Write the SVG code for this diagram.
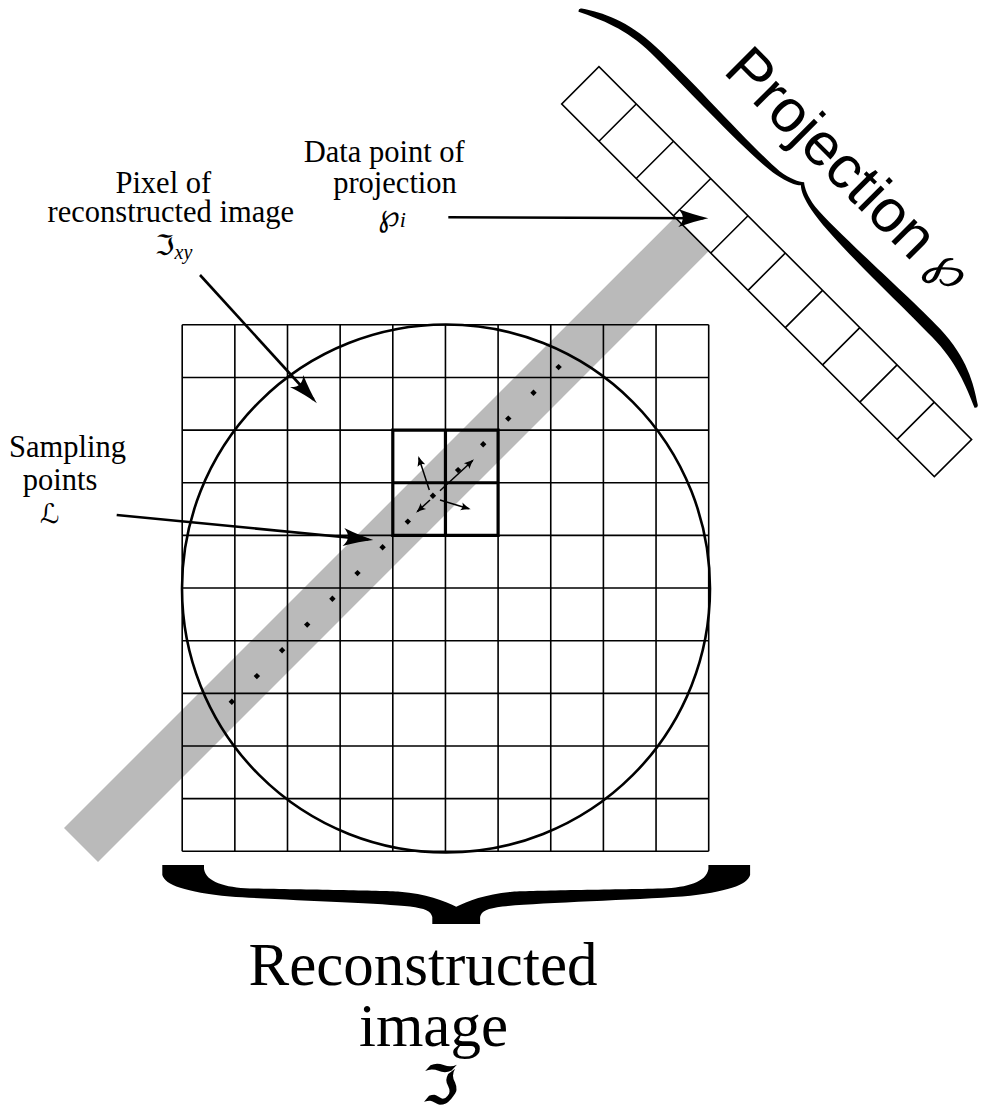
<svg xmlns="http://www.w3.org/2000/svg" width="987" height="1117" viewBox="0 0 987 1117">
<style>
.serif{font-family:"Liberation Serif","Times New Roman",serif;fill:#000}
.sym{font-family:"DejaVu Serif","DejaVu Sans",serif;fill:#000}
.sans{font-family:"Liberation Sans",Arial,sans-serif;fill:#000}
.grid{fill:none;stroke:#000;stroke-width:1.6}
.bold{fill:none;stroke:#000;stroke-width:3.2}
.cell{fill:none;stroke:#000;stroke-width:1.6}
.lab{fill:none;stroke:#000;stroke-width:2.6}
.sm{fill:none;stroke:#000;stroke-width:1.5}
</style>
<defs>
<marker id="ah" viewBox="-32 -10 34 20" refX="-5" refY="0" markerWidth="34" markerHeight="20" markerUnits="userSpaceOnUse" orient="auto">
<path d="M0,0 Q-14,-3 -30,-9 Q-21,0 -30,9 Q-14,3 0,0Z" fill="#000"/>
</marker>
<marker id="sh" viewBox="-12 -5 13 10" refX="-2" refY="0" markerWidth="13" markerHeight="10" markerUnits="userSpaceOnUse" orient="auto">
<path d="M0,0 Q-5,-1.2 -10,-4 Q-7,0 -10,4 Q-5,1.2 0,0Z" fill="#000"/>
</marker>
<path id="dot" d="M0,-3.2 L3.2,0 0,3.2 -3.2,0Z" fill="#000"/>
</defs>

<g id="band">
<polygon points="64,828 98,862 708.8,251.1 674.9,217.2" fill="#bababa"/>
</g>

<g id="grid">
<path class="grid" d="M182.2,324.8V851.3M234.85,324.8V851.3M287.5,324.8V851.3M340.15,324.8V851.3M392.8,324.8V851.3M445.45,324.8V851.3M498.1,324.8V851.3M550.75,324.8V851.3M603.4,324.8V851.3M656.05,324.8V851.3M708.7,324.8V851.3M182.2,324.8H708.7M182.2,377.45H708.7M182.2,430.1H708.7M182.2,482.75H708.7M182.2,535.4H708.7M182.2,588.05H708.7M182.2,640.7H708.7M182.2,693.35H708.7M182.2,746H708.7M182.2,798.65H708.7M182.2,851.3H708.7"/>
</g>

<g id="circle">
<circle cx="446" cy="588.5" r="264" fill="none" stroke="#000" stroke-width="2.6"/>
</g>

<g id="highlight">
<path class="bold" d="M392.8,430.1H498.1V535.4H392.8ZM445.45,430.1V535.4M392.8,482.75H498.1"/>
</g>

<g id="samples">
<use href="#dot" x="231.8" y="701.8"/>
<use href="#dot" x="256.9" y="676.1"/>
<use href="#dot" x="282.1" y="650.3"/>
<use href="#dot" x="307.2" y="624.6"/>
<use href="#dot" x="332.4" y="598.8"/>
<use href="#dot" x="357.5" y="573.1"/>
<use href="#dot" x="382.6" y="547.3"/>
<use href="#dot" x="407.8" y="521.6"/>
<use href="#dot" x="432.9" y="495.8"/>
<use href="#dot" x="458.1" y="470.1"/>
<use href="#dot" x="483.2" y="444.3"/>
<use href="#dot" x="508.3" y="418.6"/>
<use href="#dot" x="533.5" y="392.8"/>
<use href="#dot" x="558.6" y="367.1"/>
</g>

<g id="projection-strip" transform="translate(561.7,104) rotate(45)">
<rect class="cell" x="0" y="-52.7" width="527" height="52.7"/>
<path class="cell" d="M52.7,0V-52.7M105.4,0V-52.7M158.1,0V-52.7M210.8,0V-52.7M263.5,0V-52.7M316.2,0V-52.7M368.9,0V-52.7M421.6,0V-52.7M474.3,0V-52.7"/>
</g>

<g id="brace-projection" transform="translate(778.3,208) rotate(45)">
<path fill="#000" d="M-280,-2 C-262,-14 -240,-26 -200,-27.5 C-150,-29.5 -60,-24 -25,-27 C-12,-29 -4,-33 0,-36.5 C4,-33 12,-29 25,-27 C60,-24 150,-30 200,-29 C240,-27.5 262,-14 280,-2 Q283,0 280,2.5 C258,-7 235,-17 200,-17.5 C150,-18.5 60,-15 25,-22 C12,-24.5 4,-28 0,-32 C-4,-28 -12,-24.5 -25,-22 C-60,-16 -150,-20 -200,-19.5 C-235,-19 -258,-8 -280,2.5 Q-283,0 -280,-2Z"/>
</g>

<g id="brace-image">
<path fill="#000" d="M162.3,865 H204 V869 C206,882 225,887.5 250,888.5 C300,889.5 380,890.5 400,891.7 C425,893.5 445,901 456.2,906.7 C467.4,901 487.4,893.5 512.4,891.7 C532.4,890.5 612.4,889.5 662.4,888.5 C687.4,887.5 706.4,882 708.4,869 V865 H750.1 V875 C747.4,885 727.4,892 682.4,896.5 C632.4,900 532.4,903 502.4,906.5 C487.4,908.5 481.4,911 480.1,917 V924 H432.3 V917 C431,911 425,908.5 410,906.5 C380,903 280,900 230,896.5 C185,892 165,885 162.3,875Z"/>
</g>

<g id="connectors">
<line class="lab" x1="200" y1="275" x2="313.5" y2="399.5" marker-end="url(#ah)"/>
<line class="lab" x1="448.3" y1="217.3" x2="703.3" y2="218.2" marker-end="url(#ah)"/>
<line class="lab" x1="116.7" y1="515" x2="368.3" y2="539.5" marker-end="url(#ah)"/>
<line class="sm" x1="429.3" y1="490" x2="418.9" y2="458" marker-end="url(#sh)"/>
<line class="sm" x1="430" y1="500" x2="417.5" y2="511.4" marker-end="url(#sh)"/>
<line class="sm" x1="440" y1="500" x2="468.8" y2="508.7" marker-end="url(#sh)"/>
<line class="sm" x1="440" y1="490.7" x2="472.5" y2="460.7" marker-end="url(#sh)"/>
</g>

<g id="label-pixel">
<text class="serif" x="163.3" y="193.3" font-size="30.5" text-anchor="middle">Pixel of</text>
<text class="serif" x="170.8" y="221.7" font-size="30.5" text-anchor="middle">reconstructed image</text>
<text x="155" y="255" font-size="28"><tspan class="sym">ℑ</tspan><tspan class="serif" font-style="italic" font-size="20" dy="4">xy</tspan></text>
</g>

<g id="label-data">
<text class="serif" x="384.2" y="161.7" font-size="30.5" text-anchor="middle">Data point of</text>
<text class="serif" x="395" y="193.3" font-size="30.5" text-anchor="middle">projection</text>
<text x="378" y="226" font-size="31"><tspan class="sym">℘</tspan><tspan class="serif" font-style="italic" font-size="22" dy="1">i</tspan></text>
</g>

<g id="label-sampling">
<text class="serif" x="67.5" y="457" font-size="30.5" text-anchor="middle">Sampling</text>
<text class="serif" x="60" y="490" font-size="30.5" text-anchor="middle">points</text>
<text class="sym" x="49.7" y="523" font-size="27" text-anchor="middle">ℒ</text>
</g>

<g id="label-projection">
<text x="722" y="72" font-size="60.5" transform="rotate(45 722 72)"><tspan class="sans">Projection</tspan><tspan class="sym" font-size="52" dx="13" dy="-6">℘</tspan></text>
</g>

<g id="label-image">
<text class="serif" x="423" y="985" font-size="61" text-anchor="middle">Reconstructed</text>
<text class="serif" x="433.5" y="1046" font-size="61" text-anchor="middle">image</text>
<text class="sym" x="440" y="1104" font-size="54" font-weight="bold" text-anchor="middle">ℑ</text>
</g>
</svg>
